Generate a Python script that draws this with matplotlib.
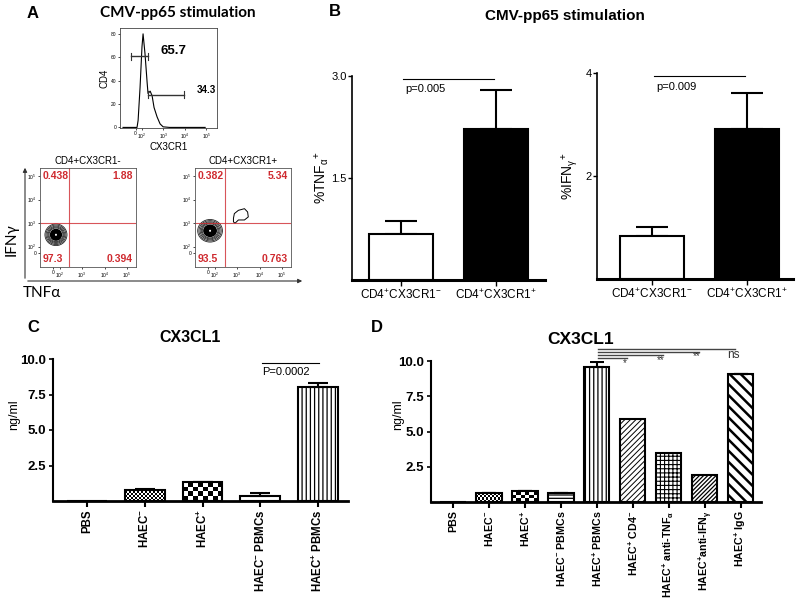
import numpy as np
import matplotlib.pyplot as plt
from matplotlib.patches import Ellipse, Polygon, FancyArrowPatch

plt.rcParams['font.family'] = ['Liberation Sans', 'DejaVu Sans']
plt.rcParams['mathtext.fontset'] = 'custom'
plt.rcParams['mathtext.rm'] = 'Liberation Sans'
plt.rcParams['mathtext.it'] = 'Liberation Sans:italic'
plt.rcParams['mathtext.bf'] = 'Liberation Sans:bold'
plt.rcParams['mathtext.default'] = 'regular'
plt.rcParams['hatch.linewidth'] = 0.9

W, H = 800, 599

# ---- panel A: CX3CR1 histogram on CD4 cells (x in log decades) ----
hist_x = [1.14, 1.79, 1.84, 1.93, 2.02, 2.07, 2.16, 2.26, 2.30, 2.40, 2.49, 2.58, 2.72, 2.86, 3.0, 3.3, 4.95]
hist_y = [0, 0, 6, 34, 69, 80, 63, 38, 29, 31, 27, 17, 9, 3, 0.5, 0, 0]
gate_neg = (1.51, 2.30, 61)
gate_pos = (2.30, 3.98, 28)
pct_neg, pct_pos = "65.7", "34.3"

# ---- panel A: TNFa / IFNg quadrant plots ----
quad_titles = ["CD4+CX3CR1-", "CD4+CX3CR1+"]
quad_values = [["0.438", "1.88", "97.3", "0.394"],
               ["0.382", "5.34", "93.5", "0.763"]]
quad_gates = [(2.42, 3.0), (2.47, 3.0)]
cluster_centers = [(1.84, 2.5), (1.8, 2.67)]
cluster_radii = [(0.49, 0.46), (0.55, 0.48)]
ring_scale = [1.0, 0.9, 0.8, 0.71, 0.63]
blob_x = [2.84, 2.88, 3.06, 3.33, 3.47, 3.50, 3.33, 3.06, 2.91, 2.84]
blob_y = [3.20, 3.40, 3.54, 3.61, 3.47, 3.26, 3.13, 3.13, 2.99, 3.05]

# ---- panel B ----
b_groups = ["CD4$^{+}$CX3CR1$^{-}$", "CD4$^{+}$CX3CR1$^{+}$"]
tnf_mean = [0.68, 2.22]
tnf_err = [0.19, 0.57]
ifn_mean = [0.84, 2.91]
ifn_err = [0.17, 0.70]
p_tnf, p_ifn = "p=0.005", "p=0.009"

# ---- panel C ----
c_labels = ["PBS", "HAEC$^{-}$", "HAEC$^{+}$", "HAEC$^{-}$ PBMCs", "HAEC$^{+}$ PBMCs"]
c_vals = [0, 0.8, 1.32, 0.35, 8.0]
c_err = [0, 0.05, 0.03, 0.2, 0.28]

# ---- panel D ----
d_labels = ["PBS", "HAEC$^{-}$", "HAEC$^{+}$", "HAEC$^{-}$ PBMCs", "HAEC$^{+}$ PBMCs",
            "HAEC$^{+}$ CD4$^{-}$", r"HAEC$^{+}$ anti-TNF$_{\alpha}$",
            r"HAEC$^{+}$anti-IFN$_{\gamma}$", "HAEC$^{+}$ IgG"]
d_vals = [0, 0.62, 0.78, 0.64, 9.55, 5.87, 3.45, 1.9, 9.05]
d_err = [0, 0.03, 0.03, 0.02, 0.4, 0, 0, 0, 0.03]
d_sig = ["*", "**", "**", "ns"]
d_sig_to = [5, 6, 7, 8]

fig = plt.figure(figsize=(W / 100, H / 100), dpi=100)


def px_axes(l, t, r, b):
    return fig.add_axes([l / W, 1 - b / H, (r - l) / W, (b - t) / H])


def ft(x, y, s, **kw):
    fig.text(x / W, 1 - y / H, s, **kw)


def checker(ax, bar, cell):
    x0, y0, w, h = bar.get_x(), bar.get_y(), bar.get_width(), bar.get_height()
    if h <= 0:
        return
    p0 = ax.transData.transform((x0, y0))
    p1 = ax.transData.transform((x0 + w, y0 + h))
    nx = max(1, int(round((p1[0] - p0[0]) / cell)))
    ny = max(1, int(round((p1[1] - p0[1]) / cell)))
    grid = np.indices((ny, nx)).sum(0) % 2
    ax.imshow(grid, cmap='gray_r', extent=(x0, x0 + w, y0, y0 + h), aspect='auto',
              interpolation='nearest', zorder=1.5)


red = '#cf2a2f'

# ================= Panel A =================
ft(33, 13, "A", fontsize=12, fontweight='bold', ha='center', va='center')
ft(178, 13, "CMV-pp65 stimulation", fontsize=11, fontweight='bold', ha='center', va='center',
   family=['Lato', 'DejaVu Sans'])

ax = px_axes(120, 28, 217, 128)
ax.plot(hist_x, hist_y, color='k', lw=0.8)
for (x0, x1, y) in [gate_neg, gate_pos]:
    ax.plot([x0, x1], [y, y], color='#333', lw=1)
    ax.plot([x0, x0], [y - 3, y + 3], color='#333', lw=0.8)
    ax.plot([x1, x1], [y - 3, y + 3], color='#333', lw=0.8)
ax.text(3.47, 65, pct_neg, fontsize=9.5, fontweight='bold', ha='center', va='center')
ax.text(5.0, 32, pct_pos, fontsize=7, fontweight='bold', ha='center', va='center')
ax.set_xlim(1.0, 5.5)
ax.set_ylim(-0.5, 85)
ax.set_xticks([1.72, 2, 3, 4, 5], ['0', '10$^2$', '10$^3$', '10$^4$', '10$^5$'])
ax.set_yticks([0, 20, 40, 60, 80])
ax.tick_params(labelsize=3.5, length=1.5, width=0.5, pad=1)
ax.set_ylabel("CD4", fontsize=7, labelpad=1)
ax.set_xlabel("CX3CR1", fontsize=7, labelpad=1)
for s in ax.spines.values():
    s.set_linewidth(0.6)
    s.set_color('#444')

for i, (l, r) in enumerate([(40, 136), (195, 291)]):
    ax = px_axes(l, 168, r, 267)
    cx, cy = cluster_centers[i]
    rx, ry = cluster_radii[i]
    for k in ring_scale:
        ax.add_patch(Ellipse((cx, cy), 2 * rx * k, 2 * ry * k, fill=False, ec='#222', lw=0.6))
    ax.add_patch(Ellipse((cx, cy), 2 * rx * 0.56, 2 * ry * 0.56, fc='k', ec='none'))
    ax.add_patch(Ellipse((cx, cy), 0.09, 0.09, fc='w', ec='none'))
    if i == 1:
        ax.add_patch(Polygon(np.column_stack([blob_x, blob_y]), closed=True, fill=False, ec='k', lw=0.7))
    gx, gy = quad_gates[i]
    ax.axvline(gx, color=red, lw=0.8, alpha=0.8)
    ax.axhline(gy, color=red, lw=0.8, alpha=0.8)
    v = quad_values[i]
    kw = dict(color=red, fontsize=7.5, fontweight='bold', transform=ax.transAxes)
    ax.text(0.03, 0.97, v[0], ha='left', va='top', **kw)
    ax.text(0.97, 0.97, v[1], ha='right', va='top', **kw)
    ax.text(0.03, 0.03, v[2], ha='left', va='bottom', **kw)
    ax.text(0.97, 0.03, v[3], ha='right', va='bottom', **kw)
    ax.set_xlim(1.13, 5.4)
    ax.set_ylim(1.13, 5.34)
    ax.set_xticks([1.7, 2, 3, 4, 5], ['0', '10$^2$', '10$^3$', '10$^4$', '10$^5$'])
    ax.set_yticks([1.72, 2, 3, 4, 5], ['0', '10$^2$', '10$^3$', '10$^4$', '10$^5$'])
    ax.tick_params(labelsize=3.5, length=1.5, width=0.5, pad=1)
    for s in ax.spines.values():
        s.set_linewidth(0.6)
        s.set_color('#555')
    ax.set_title(quad_titles[i], fontsize=7, pad=3)

fig.add_artist(FancyArrowPatch((25 / W, 1 - 281 / H), (25 / W, 1 - 165 / H), transform=fig.transFigure,
                               arrowstyle='-|>', mutation_scale=6, lw=0.8, color='#333'))
fig.add_artist(FancyArrowPatch((25 / W, 1 - 281 / H), (305 / W, 1 - 281 / H), transform=fig.transFigure,
                               arrowstyle='-|>', mutation_scale=6, lw=0.8, color='#333'))
ft(12, 240, "IFNγ", fontsize=11, rotation=90, ha='center', va='center', family=['Lato', 'DejaVu Sans'])
ft(42, 293, "TNFα", fontsize=11, ha='center', va='center', family=['Lato', 'DejaVu Sans'])

# ================= Panel B =================
ft(335, 11, "B", fontsize=12, fontweight='bold', ha='center', va='center')
ft(565, 16, "CMV-pp65 stimulation", fontsize=11, fontweight='bold', ha='center', va='center')
narrow = ['Liberation Sans Narrow', 'Liberation Sans', 'DejaVu Sans']

b_specs = [((352, 76, 545, 280), tnf_mean, tnf_err, 3.0, [1.5, 3.0], ['1.5', '3.0'],
            r'%TNF$_{\alpha}$$^{+}$', p_tnf, 2.96, 2.81, (-0.516, 1.516), -0.109),
           ((597, 73, 793, 279), ifn_mean, ifn_err, 4.0, [2, 4], ['2', '4'],
            r'%IFN$_{\gamma}$$^{+}$', p_ifn, 3.94, 3.73, (-0.579, 1.484), -0.087)]
for (box, mean, err, top, yt, ytl, ylab, ptxt, py, pty, xl, lx) in b_specs:
    ax = px_axes(*box)
    x = np.arange(len(mean))
    ax.bar(x, mean, width=0.674, color=['white', 'black'], edgecolor='k', linewidth=1.5, zorder=2)
    ax.errorbar(x, mean, yerr=[np.zeros(len(err)), err], fmt='none', ecolor='k',
                elinewidth=1.5, capsize=11.5, capthick=1.5, zorder=1)
    ax.plot([0.02, 0.98], [py, py], color='k', lw=0.8)
    ax.text(0.05, pty, ptxt, fontsize=8, ha='left', va='center', family=narrow)
    ax.set_xlim(*xl)
    ax.set_ylim(0, top)
    ax.set_yticks(yt, ytl, family=narrow)
    ax.set_xticks(x, b_groups, family=narrow)
    ax.tick_params(axis='y', labelsize=8, length=3, width=1, pad=1)
    ax.tick_params(axis='x', labelsize=8.5, length=4, width=1, pad=2)
    ax.spines[['top', 'right']].set_visible(False)
    ax.spines['left'].set_linewidth(1.2)
    ax.spines['bottom'].set_linewidth(2.2)
    ax.set_ylabel(ylab, fontsize=10)
    ax.yaxis.set_label_coords(lx, 0.5)


# ================= Panels C and D =================
def cx3cl1_panel(box, labels, vals, err, width, hatches, fine_cell, check_cell, xl, cap, lsize):
    ax = px_axes(*box)
    x = np.arange(len(vals))
    bars = ax.bar(x, vals, width=width, facecolor='none', edgecolor='k', linewidth=1.5, zorder=2)
    ax.set_xlim(*xl)
    ax.set_ylim(0, 10)
    for b, h in zip(bars, hatches):
        if h is None:
            continue
        pat, hlw = h
        if pat == 'fine':
            checker(ax, b, fine_cell)
        elif pat == 'check':
            checker(ax, b, check_cell)
        else:
            b.set_hatch(pat)
            if hasattr(b, 'set_hatch_linewidth'):
                b.set_hatch_linewidth(hlw)
    for xi, v, e in zip(x, vals, err):
        if e > 0:
            ax.errorbar(xi, v, yerr=[[0], [e]], fmt='none', ecolor='k', elinewidth=1.5,
                        capsize=cap, capthick=1.5, zorder=1)
    ax.set_xlim(*xl)
    ax.set_ylim(0, 10)
    ax.set_yticks([2.5, 5.0, 7.5, 10.0], ['2.5', '5.0', '7.5', '10.0'])
    ax.set_xticks(x, labels, rotation=90)
    for t in ax.get_xticklabels() + ax.get_yticklabels():
        t.set_fontweight('bold')
    ax.tick_params(axis='y', labelsize=9.5, length=3, width=1.2, pad=2)
    ax.tick_params(axis='x', labelsize=lsize, length=4, width=1.5, pad=2)
    ax.spines[['top', 'right']].set_visible(False)
    ax.spines['left'].set_linewidth(1.5)
    ax.spines['bottom'].set_linewidth(2)
    return ax


ft(33, 328, "C", fontsize=12, fontweight='bold', ha='center', va='center')
ft(190, 338, "CX3CL1", fontsize=11.5, fontweight='bold', ha='center', va='center')
ft(14, 415, "ng/ml", fontsize=9, rotation=90, ha='center', va='center', family=narrow)
axc = cx3cl1_panel((53, 359, 348, 501), c_labels, c_vals, c_err, 0.69,
                   [None, ('fine', 0), ('check', 0), ('-', 0.9), ('||||', 0.9)], 2, 5,
                   (-0.59, 4.52), 7, 8.3)
axc.plot([3.03, 4.02], [9.72, 9.72], color='k', lw=0.8, clip_on=False)
axc.text(3.03, 9.08, "P=0.0002", fontsize=8, ha='left', va='center')

ft(377, 328, "D", fontsize=12, fontweight='bold', ha='center', va='center')
ft(581, 339, "CX3CL1", fontsize=12.5, fontweight='bold', ha='center', va='center')
ft(398, 415, "ng/ml", fontsize=9, rotation=90, ha='center', va='center', family=narrow)
axd = cx3cl1_panel((431, 361, 761, 502), d_labels, d_vals, d_err, 0.70,
                   [None, ('fine', 0), ('check', 0), ('-----', 0.9), ('||||', 0.9),
                    ('//////', 0.7), ('++++', 0.8), ('////////', 0.9), ('\\\\\\', 1.8)],
                   2, 4, (-0.61, 8.56), 5, 7.7)
sig_y = [10.2, 10.45, 10.65, 10.85]
sig_ty = [9.86, 10.1, 10.35, 10.45]
for s, to, y, ty in zip(d_sig, d_sig_to, sig_y, sig_ty):
    axd.plot([4.03, to - 0.17], [y, y], color='#444', lw=1.0, clip_on=False)
    axd.text(to - 0.22, ty, s, fontsize=7 if s != 'ns' else 8.5, ha='center', va='center', color='#333')

fig.savefig("out.png", dpi=100)
